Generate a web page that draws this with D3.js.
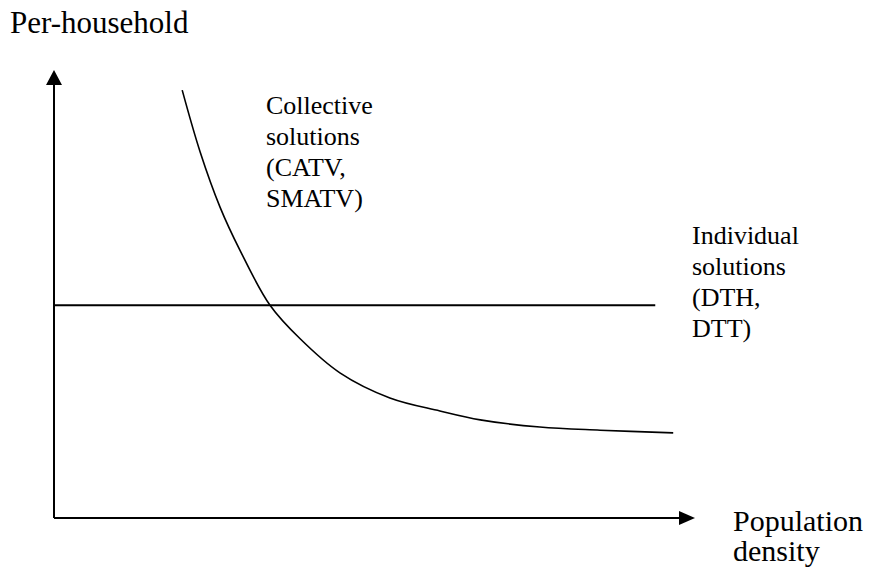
<!DOCTYPE html>
<html>
<head>
<meta charset="utf-8">
<script src="https://cdn.jsdelivr.net/npm/d3@7"></script>
<style>
  html, body { margin: 0; padding: 0; background: #fff; }
</style>
</head>
<body>
<svg id="plotSvg"></svg>
<script>
// collective solutions cost curve (density, per-household cost), arbitrary units 0..100
const curveDensity = [20.0, 22.8, 25.9, 29.0, 33.7, 38.4, 44.6, 52.4, 60.2, 66.5, 75.8, 85.2, 96.6];
const curveCost    = [95.5, 81.7, 69.4, 59.8, 47.5, 40.0, 32.4, 26.8, 23.9, 21.9, 20.3, 19.6, 19.0];

// individual solutions: flat cost
const flatDensity = [0, 93.8];
const flatCost    = [47.5, 47.5];

const collectiveLabel = ["Collective", "solutions", "(CATV,", "SMATV)"];
const individualLabel = ["Individual", "solutions", "(DTH,", "DTT)"];
const xLabel = ["Population", "density"];
const yLabel = "Per-household";

const width = 875, height = 567;

// find an installed serif face (canvas width test against monospace)
function pickFont(names) {
    const ctx = document.createElement("canvas").getContext("2d");
    const probe = "Per-household Population mmmWWiil";
    ctx.font = "40px monospace";
    const base = ctx.measureText(probe).width;
    for (const n of names) {
        ctx.font = `40px "${n}", monospace`;
        if (Math.abs(ctx.measureText(probe).width - base) > 0.5) return `"${n}"`;
    }
    return "serif";
}
const serif = pickFont(["Liberation Serif", "Times New Roman", "Tinos", "DejaVu Serif",
    "Noto Serif", "Nimbus Roman", "FreeSerif", "Times"]);

const svg = d3.select("#plotSvg")
    .attr("width", width)
    .attr("height", height)
    .style("display", "block");

const x = d3.scaleLinear().domain([0, 100]).range([54, 695]);
const y = d3.scaleLinear().domain([0, 100]).range([518, 70]);

// axes with arrowheads
svg.append("line")
    .attr("x1", x(0)).attr("y1", y(0))
    .attr("x2", x(0)).attr("y2", y(100) + 10)
    .attr("stroke", "#000").attr("stroke-width", 2);
svg.append("path")
    .attr("d", `M${x(0)},${y(100)} L${x(0) - 8},${y(100) + 15} L${x(0) + 8},${y(100) + 15} Z`)
    .attr("fill", "#000");

svg.append("line")
    .attr("x1", x(0)).attr("y1", y(0))
    .attr("x2", x(100) - 10).attr("y2", y(0))
    .attr("stroke", "#000").attr("stroke-width", 2);
svg.append("path")
    .attr("d", `M${x(100)},${y(0)} L${x(100) - 16},${y(0) - 7} L${x(100) - 16},${y(0) + 7} Z`)
    .attr("fill", "#000");

// flat line
const flatData = flatDensity.map((d, i) => ({ x: d, y: flatCost[i] }));
svg.append("path")
    .datum(flatData)
    .attr("fill", "none")
    .attr("stroke", "#000")
    .attr("stroke-width", 2)
    .attr("d", d3.line().x(d => x(d.x)).y(d => y(d.y)));

// decreasing curve
const curveData = curveDensity.map((d, i) => ({ x: d, y: curveCost[i] }));
svg.append("path")
    .datum(curveData)
    .attr("fill", "none")
    .attr("stroke", "#000")
    .attr("stroke-width", 1.6)
    .attr("d", d3.line().curve(d3.curveCatmullRom.alpha(0.5)).x(d => x(d.x)).y(d => y(d.y)));

// labels
svg.append("text")
    .attr("x", 10).attr("y", 33)
    .attr("font-family", serif)
    .attr("font-size", 31)
    .text(yLabel);

svg.append("text")
    .attr("x", 733).attr("y", 531)
    .attr("font-family", serif)
    .attr("font-size", 30)
    .selectAll("tspan")
    .data(xLabel)
    .join("tspan")
    .attr("x", 733)
    .attr("dy", (d, i) => i === 0 ? 0 : 30)
    .text(d => d);

svg.append("text")
    .attr("x", 266).attr("y", 114)
    .attr("font-family", serif)
    .attr("font-size", 26)
    .selectAll("tspan")
    .data(collectiveLabel)
    .join("tspan")
    .attr("x", 266)
    .attr("dy", (d, i) => i === 0 ? 0 : 31)
    .text(d => d);

svg.append("text")
    .attr("x", 692).attr("y", 244)
    .attr("font-family", serif)
    .attr("font-size", 26)
    .selectAll("tspan")
    .data(individualLabel)
    .join("tspan")
    .attr("x", 692)
    .attr("dy", (d, i) => i === 0 ? 0 : 31)
    .text(d => d);
</script>
</body>
</html>
